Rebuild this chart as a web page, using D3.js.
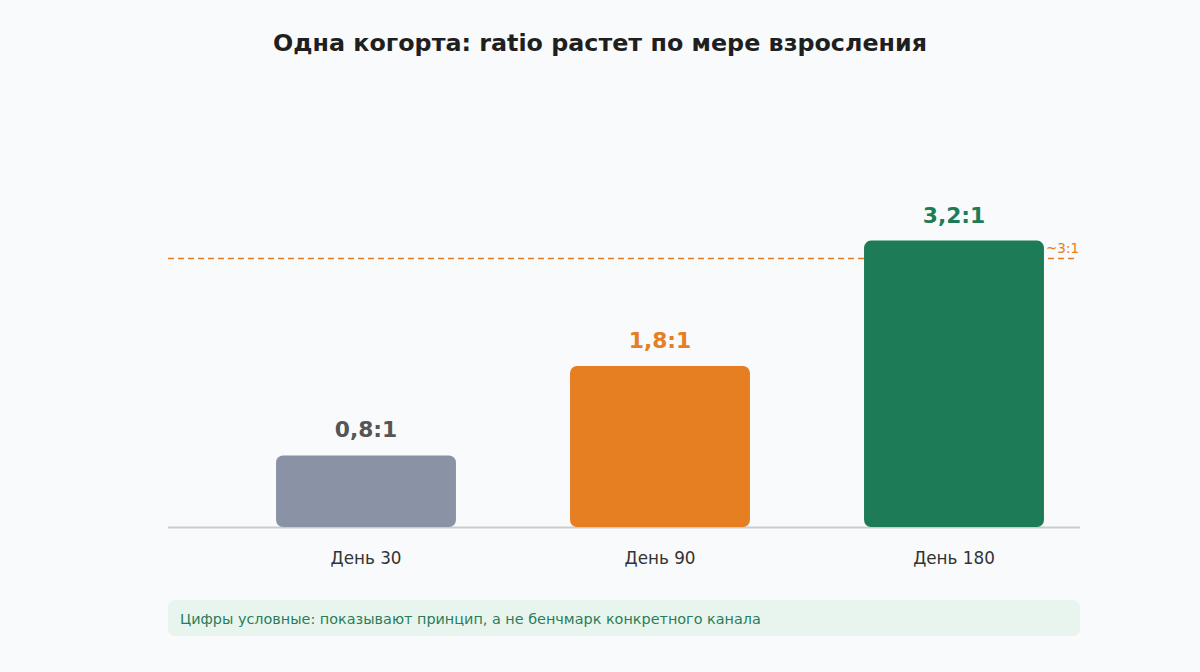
<!DOCTYPE html>
<html><head><meta charset="utf-8">
<script src="https://cdn.jsdelivr.net/npm/d3@7"></script>
<style>
html,body{margin:0;padding:0;background:#f8fafb;}
svg{display:block;font-family:"DejaVu Sans",sans-serif;}
</style></head>
<body>
<svg id="chart" width="1200" height="672"></svg>
<script>
const categories = ["День 30", "День 90", "День 180"];
const values = [0.8, 1.8, 3.2];
const valueLabels = ["0,8:1", "1,8:1", "3,2:1"];
const barColors = ["#8a93a6", "#e67e22", "#1e7b57"];
const labelColors = ["#555555", "#e67e22", "#1e7b57"];
const refValue = 3;
const refLabel = "~3:1";
const title = "Одна когорта: ratio растет по мере взросления";
const note = "Цифры условные: показывают принцип, а не бенчмарк конкретного канала";

const svg = d3.select("#chart");
svg.append("rect").attr("width",1200).attr("height",672).attr("fill","#f8fafb");

svg.append("text").attr("x",600).attr("y",51).attr("text-anchor","middle")
  .attr("font-size",23.8).attr("font-weight","bold").attr("fill","#1f1f1f").text(title);

const x = d3.scaleBand().domain(categories).range([219,1101]).paddingInner(0.388).paddingOuter(0.194);
const y = d3.scaleLinear().domain([0,4]).range([527,169]);

// reference line
svg.append("line").attr("x1",168).attr("x2",1076).attr("y1",y(refValue)).attr("y2",y(refValue))
  .attr("stroke","#e67e22").attr("stroke-width",1.5).attr("stroke-dasharray","6,4");
svg.append("text").attr("x",1046).attr("y",y(refValue)-6).attr("font-size",13.5).attr("fill","#e67e22").text(refLabel);

// baseline
svg.append("line").attr("x1",168).attr("x2",1080).attr("y1",y(0)+0.5).attr("y2",y(0)+0.5)
  .attr("stroke","#cccccc").attr("stroke-width",2);

// bars
svg.selectAll("rect.bar").data(values).join("rect").attr("class","bar")
  .attr("x",(d,i)=>x(categories[i])).attr("width",x.bandwidth())
  .attr("y",d=>y(d)).attr("height",d=>y(0)-y(d))
  .attr("rx",7).attr("ry",7).attr("fill",(d,i)=>barColors[i]);

// value labels
svg.selectAll("text.val").data(values).join("text").attr("class","val")
  .attr("x",(d,i)=>x(categories[i])+x.bandwidth()/2).attr("y",d=>y(d)-18)
  .attr("text-anchor","middle").attr("font-size",21.8).attr("font-weight","bold")
  .attr("fill",(d,i)=>labelColors[i]).text((d,i)=>valueLabels[i]);

// x axis labels
const axis = d3.axisBottom(x).tickSize(0).tickPadding(0);
const g = svg.append("g").attr("transform",`translate(0,${y(0)+37})`).call(axis);
g.select(".domain").remove();
g.selectAll("text").attr("font-size",16.8).attr("fill","#333333").attr("font-family","DejaVu Sans, sans-serif").attr("dy","0");

// note box
svg.append("rect").attr("x",168).attr("y",600).attr("width",912).attr("height",36).attr("rx",7)
  .attr("fill","#e8f5ee");
svg.append("text").attr("x",180).attr("y",624).attr("font-size",14.4).attr("fill","#2a7d5a").text(note);
</script>
</body></html>
